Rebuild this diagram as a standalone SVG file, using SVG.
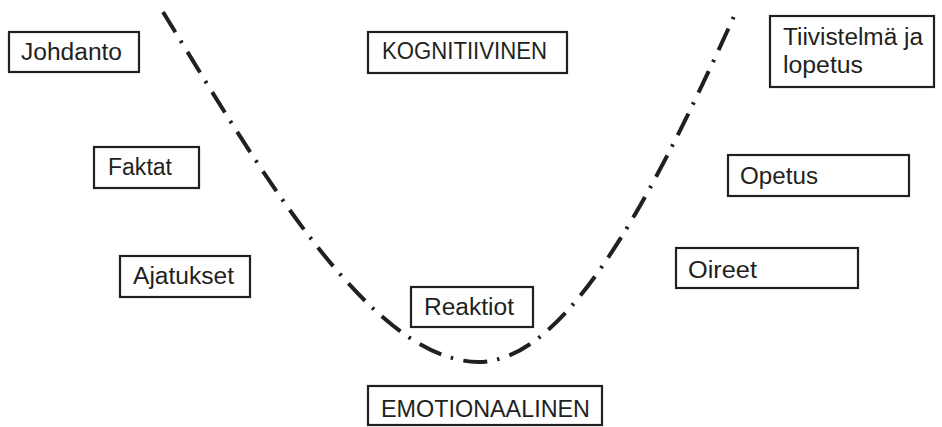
<svg xmlns="http://www.w3.org/2000/svg" width="942" height="427" viewBox="0 0 942 427">
<style>
.box{fill:#fff;stroke:#231f20;stroke-width:2.2}
.t{font-family:"Liberation Sans",Arial,sans-serif;font-size:23px;fill:#231f20}
.curve{fill:none;stroke:#231f20;stroke-width:4;stroke-dasharray:24 10 2.5 10.5}
</style>
<rect width="942" height="427" fill="#fff"/>
<g id="connectors">
<path class="curve" d="M163,12 C260,170 370,360 478,362 C560,362 640,225 735,14"/>
</g>
<g id="johdanto"><rect class="box" x="9" y="32" width="130" height="40"/><text class="t" x="21" y="60" textLength="101" lengthAdjust="spacingAndGlyphs">Johdanto</text></g>
<g id="kognitiivinen"><rect class="box" x="368" y="32" width="199" height="41"/><text class="t" x="382" y="59" textLength="165" lengthAdjust="spacingAndGlyphs">KOGNITIIVINEN</text></g>
<g id="tiivistelma"><rect class="box" x="770" y="16" width="164" height="71"/><text class="t" x="783" y="45" textLength="140" lengthAdjust="spacingAndGlyphs">Tiivistelmä ja</text><text class="t" x="783" y="73" textLength="80" lengthAdjust="spacingAndGlyphs">lopetus</text></g>
<g id="faktat"><rect class="box" x="94" y="147" width="105" height="41"/><text class="t" x="108" y="175" textLength="64" lengthAdjust="spacingAndGlyphs">Faktat</text></g>
<g id="ajatukset"><rect class="box" x="120" y="256" width="130" height="41"/><text class="t" x="133" y="284" textLength="101" lengthAdjust="spacingAndGlyphs">Ajatukset</text></g>
<g id="opetus"><rect class="box" x="728" y="155" width="181" height="41"/><text class="t" x="740" y="184" textLength="78" lengthAdjust="spacingAndGlyphs">Opetus</text></g>
<g id="oireet"><rect class="box" x="676" y="248" width="182" height="40"/><text class="t" x="688" y="278" textLength="69" lengthAdjust="spacingAndGlyphs">Oireet</text></g>
<g id="reaktiot"><rect class="box" x="411" y="287" width="122" height="40"/><text class="t" x="424" y="315" textLength="90" lengthAdjust="spacingAndGlyphs">Reaktiot</text></g>
<g id="emotionaalinen"><rect class="box" x="368" y="386" width="234" height="39"/><text class="t" x="381" y="417" textLength="209" lengthAdjust="spacingAndGlyphs">EMOTIONAALINEN</text></g>
</svg>
